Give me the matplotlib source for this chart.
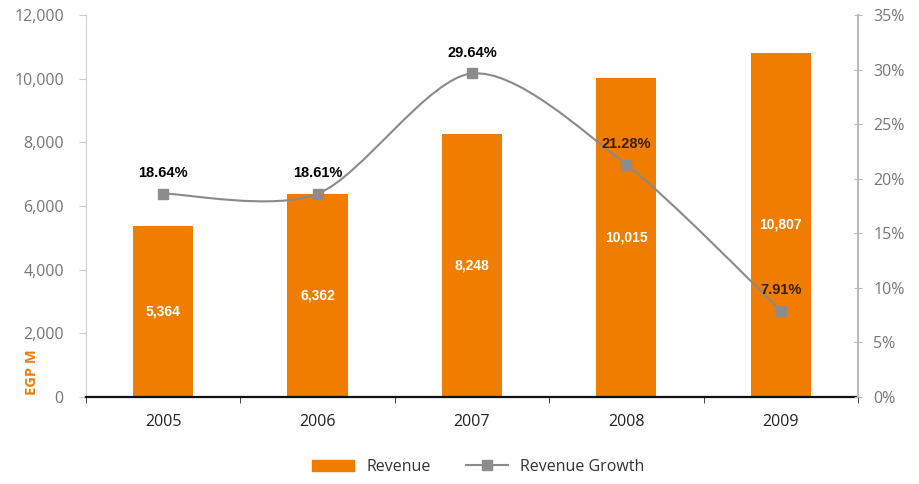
import matplotlib
matplotlib.use("Agg")
import matplotlib.pyplot as plt
from matplotlib.path import Path
from matplotlib.patches import PathPatch, Patch
from matplotlib.lines import Line2D
import numpy as np

years = ["2005", "2006", "2007", "2008", "2009"]
revenue = [5364, 6362, 8248, 10015, 10807]
growth = [18.64, 18.61, 29.64, 21.28, 7.91]
growth_labels = ["18.64%", "18.61%", "29.64%", "21.28%", "7.91%"]

orange = "#F07C00"
grey_line = "#8a8a8a"
tick_grey = "#777777"

fig = plt.figure(figsize=(9.2, 4.84), dpi=100)
ax = fig.add_axes([0.0935, 0.18, 0.839, 0.789])
ax2 = ax.twinx()

x = np.arange(len(years))
ax.bar(x, revenue, width=0.39, color=orange, zorder=2)
for xi, v in zip(x, revenue):
    ax.text(xi, v / 2, f"{v:,}", ha="center", va="center", color="white",
            fontsize=10, fontweight="bold", family="Liberation Sans")

ax.set_xlim(-0.5, len(years) - 0.5)
ax.set_ylim(0, 12000)
ax.set_yticks(range(0, 12001, 2000))
ax.set_yticklabels([f"{v:,}" for v in range(0, 12001, 2000)])
ax.set_xticks(x)
ax.set_xticklabels(years, fontsize=11.5, color="#222222", family="Open Sans")
ax.set_xticks(np.arange(-0.5, len(years)), minor=True)
ax.tick_params(axis="x", which="major", length=0, pad=12)
ax.tick_params(axis="x", which="minor", length=4, color="#222222", direction="out")
ax.tick_params(axis="y", length=5, color="#cccccc", labelcolor=tick_grey,
               labelsize=11.5, pad=11)
for lab in ax.get_yticklabels():
    lab.set_family("Open Sans")

for s in ["top", "right"]:
    ax.spines[s].set_visible(False)
ax.spines["left"].set_color("#d0d0d0")
ax.spines["bottom"].set_color("#111111")
ax.spines["bottom"].set_linewidth(1.6)

# right axis
ax2.set_ylim(0, 35)
ax2.set_yticks(range(0, 36, 5))
ax2.set_yticklabels([f"{v}%" for v in range(0, 36, 5)])
ax2.tick_params(axis="y", length=6, direction="inout", color="#bbbbbb",
                labelcolor=tick_grey, labelsize=11.5, pad=8)
for lab in ax2.get_yticklabels():
    lab.set_family("Open Sans")
for s in ["top", "left", "bottom"]:
    ax2.spines[s].set_visible(False)
ax2.spines["right"].set_color("#bbbbbb")
ax2.spines["right"].set_linewidth(1.5)

# smoothed line through the growth points (Catmull-Rom as cubic Bezier)
pts = np.column_stack([x, growth]).astype(float)
ext = np.vstack([pts[0], pts, pts[-1]])
verts = [tuple(pts[0])]
codes = [Path.MOVETO]
for i in range(1, len(ext) - 2):
    p0, p1, p2, p3 = ext[i - 1], ext[i], ext[i + 1], ext[i + 2]
    c1 = p1 + (p2 - p0) / 7
    c2 = p2 - (p3 - p1) / 7
    verts += [tuple(c1), tuple(c2), tuple(p2)]
    codes += [Path.CURVE4] * 3
ax2.add_patch(PathPatch(Path(verts, codes), fill=False, edgecolor=grey_line,
                        lw=1.5, zorder=3))
ax2.plot(x, growth, ls="none", marker="s", ms=7, color="#8c8c8c", zorder=4)

label_colors = ["black", "black", "black", "#3a2000", "#3a2000"]
for xi, g, t, c in zip(x, growth, growth_labels, label_colors):
    ax2.annotate(t, (xi, g), xytext=(0, 10), textcoords="offset points",
                 ha="center", va="bottom", fontsize=10.5, fontweight="bold",
                 color=c, family="Liberation Sans", zorder=5)

fig.text(0.035, 0.232, "EGP M", rotation=90, color=orange, fontsize=10.5,
         fontweight="bold", ha="center", va="center", family="Open Sans")

handles = [Patch(color=orange),
           Line2D([0], [0], color=grey_line, lw=1.5, marker="s", ms=7,
                  markerfacecolor="#8c8c8c", markeredgecolor="#8c8c8c")]
fig.legend(handles, ["Revenue", "Revenue Growth"],
           loc="center", bbox_to_anchor=(0.52, 0.035), ncol=2, frameon=False,
           fontsize=11.5, handlelength=2.6, handleheight=0.7, columnspacing=2.2,
           labelcolor="#333333", prop={"family": "Open Sans", "size": 11.5})

fig.savefig("out.png", dpi=100)
